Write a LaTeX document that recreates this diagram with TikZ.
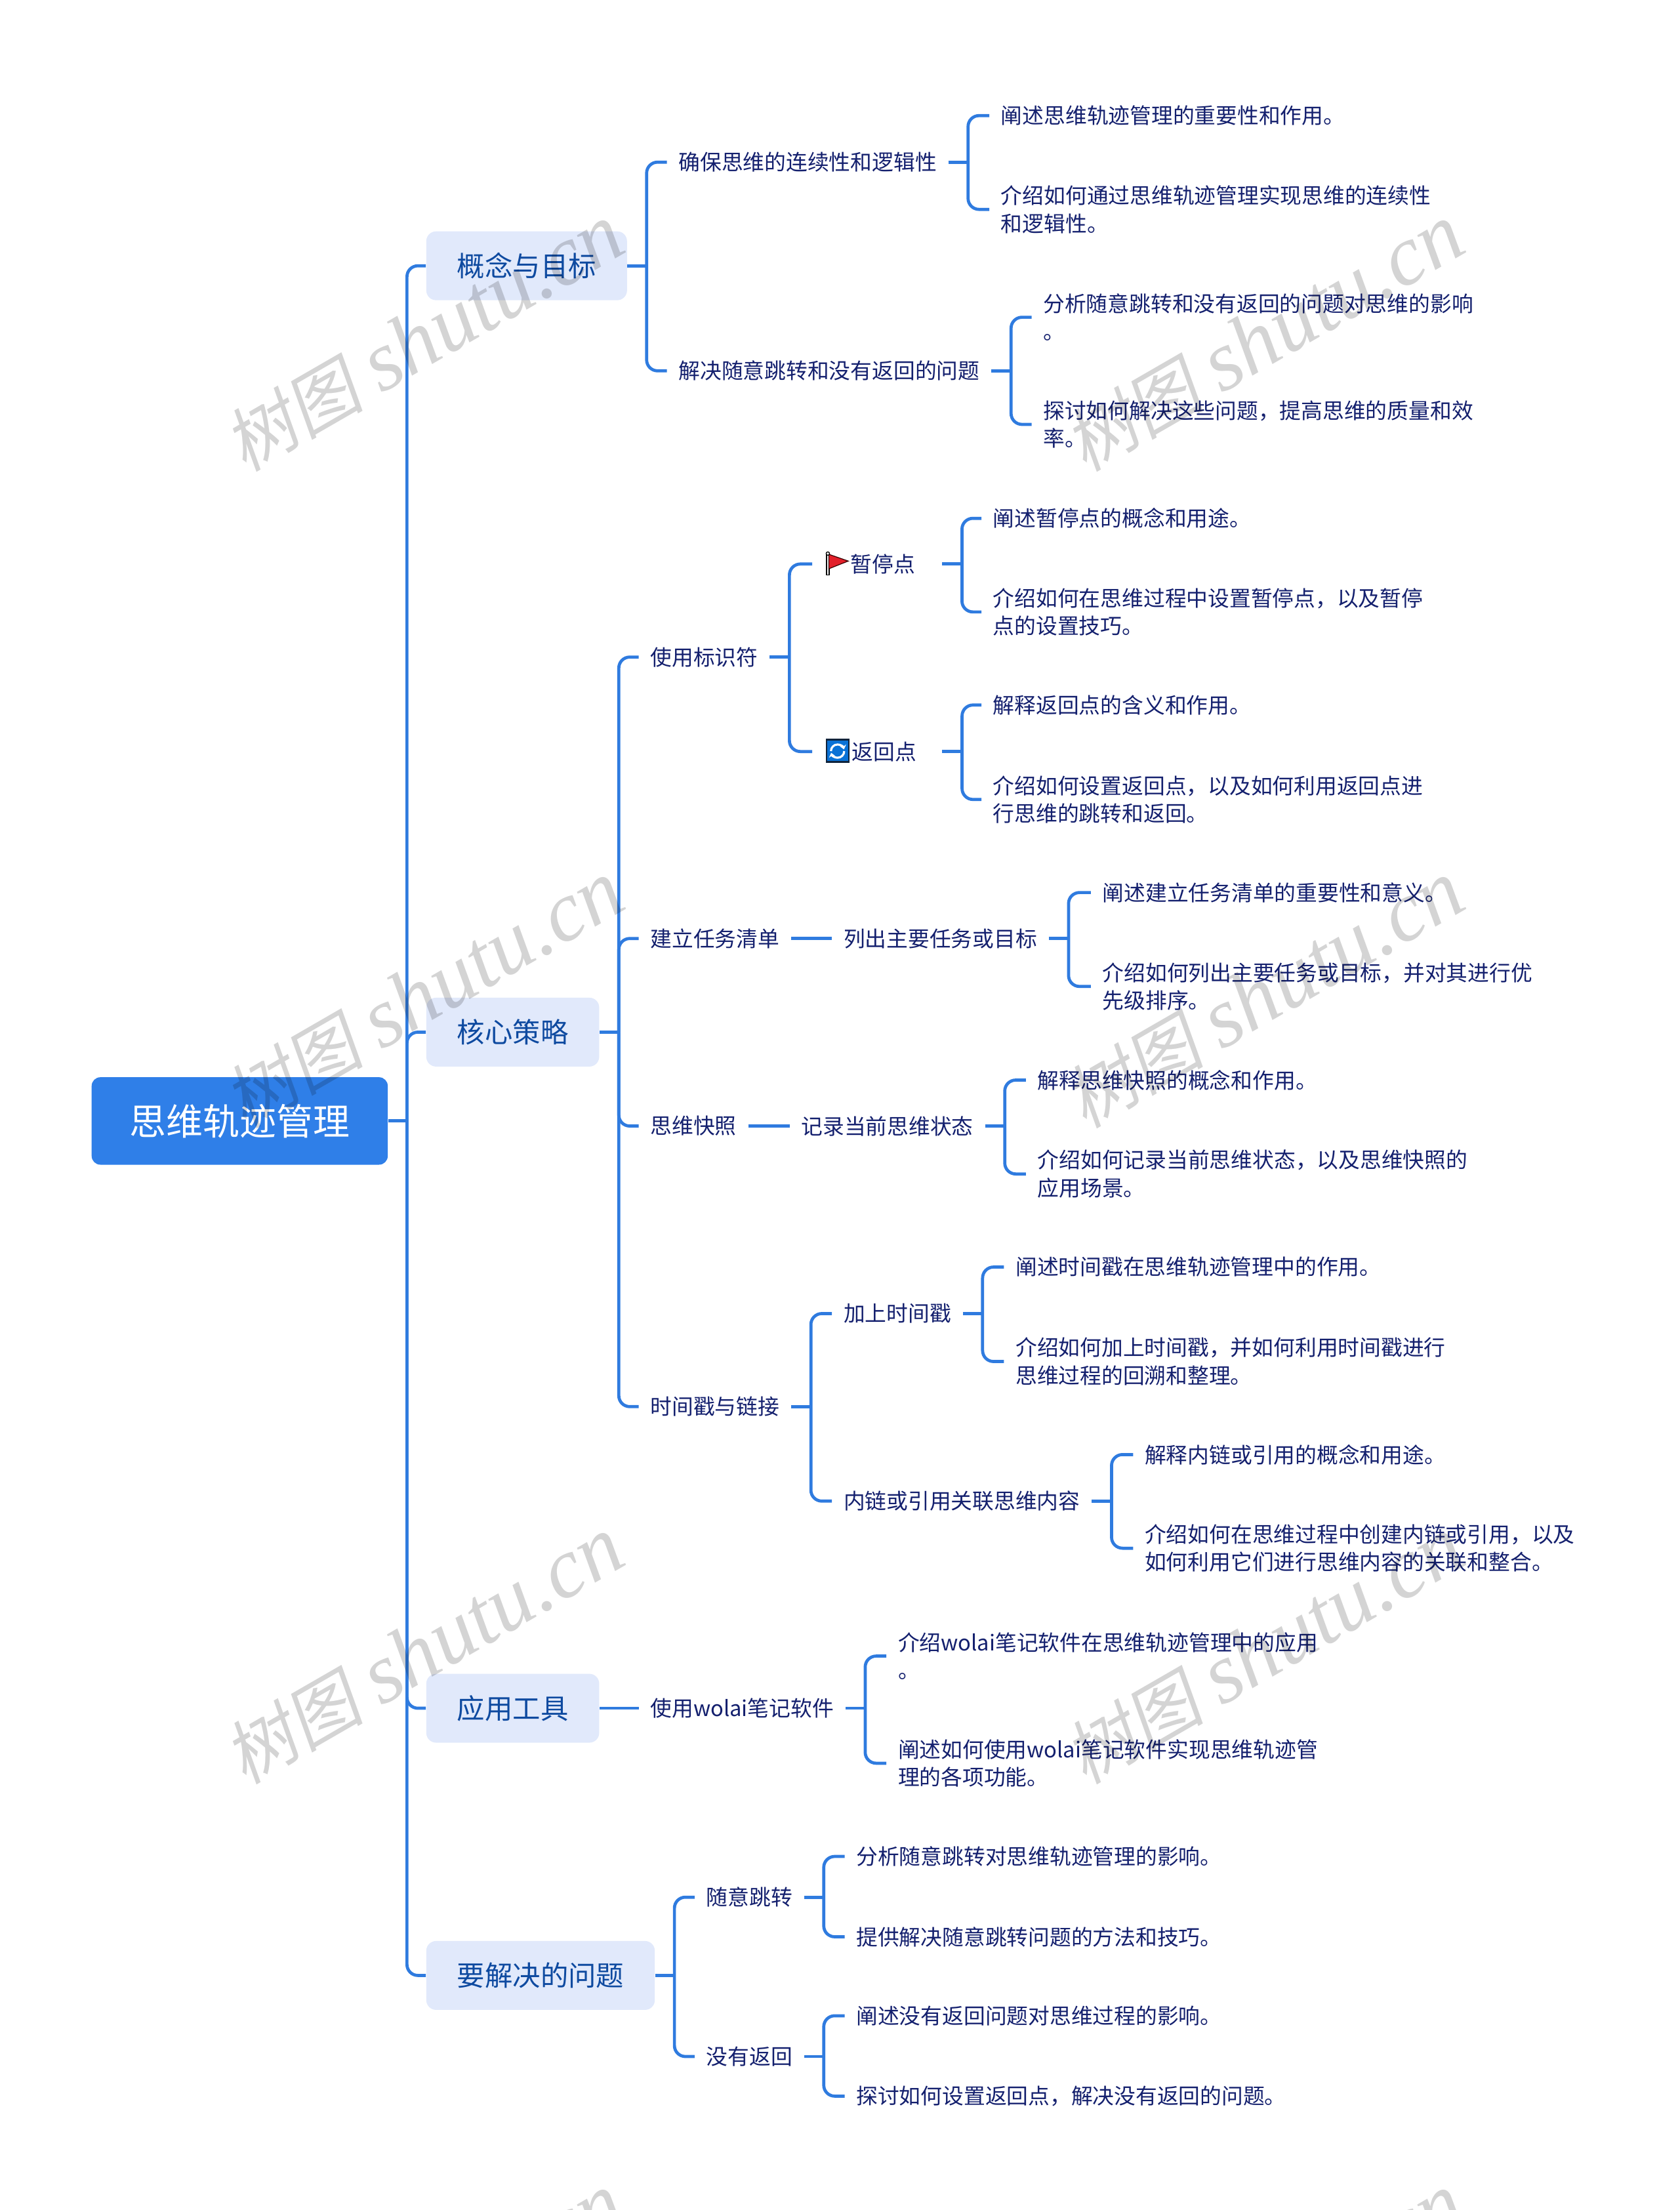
\documentclass[tikz,border=0pt]{standalone}
\usepackage{fontspec}
\usetikzlibrary{arrows.meta}
\setmainfont{Noto Sans CJK SC}
\newfontfamily\wmcjk[FakeSlant=0.18]{Noto Sans CJK SC}
\newfontfamily\wmlat{Liberation Serif}
\definecolor{connc}{HTML}{2F7BDF}
\definecolor{rootc}{HTML}{2F7FE8}
\definecolor{mainc}{HTML}{E1E9FB}
\definecolor{maint}{HTML}{0E4AA0}
\definecolor{subt}{HTML}{14206E}
\definecolor{iconb}{HTML}{0A72D6}
\definecolor{iconk}{HTML}{10243C}
\definecolor{flagr}{HTML}{E2202A}
\newcommand{\fork}[4][15]{%
  \coordinate (b#2) at ([xshift=#1*0.64484pt]#2.east);
  \draw[conn] (#2.east) -- (b#2);
  \draw[conn] (#3.west) -| (b#2) |- (#4.west);
}
\tikzset{
  x=0.64484pt,y=-0.64484pt,
  conn/.style={draw=connc,line width=1.42pt,rounded corners=5pt},
  sub/.style={anchor=west,align=left,text=subt,inner xsep=5.16pt,inner ysep=0pt,
    font=\fontsize{9.83pt}{12.75pt}\selectfont},
  topic/.style={anchor=west,fill=mainc,text=maint,rounded corners=4.5pt,inner xsep=14.1pt,inner ysep=0pt,
    minimum height=31.5pt,font=\fontsize{12.72pt}{15pt}\selectfont},
  rootn/.style={fill=rootc,text=white,rounded corners=4pt,inner xsep=17.4pt,inner ysep=0pt,
    minimum height=40pt,font=\fontsize{16.77pt}{20pt}\selectfont},
  wm/.style={rotate=30,text=black,text opacity=0.17,inner sep=0pt},
}
\newcommand{\wmtext}{{\wmcjk\fontsize{32pt}{36pt}\selectfont 树图}\hspace{8pt}{\wmlat\itshape\fontsize{39pt}{42pt}\selectfont shutu.cn}}
\begin{document}
\begin{tikzpicture}
\useasboundingbox (0,0) rectangle (1191,1567.37);
% root and topics
\node[rootn] (root) at (170,795) {思维轨迹管理};
\node[topic] (t1) at (302,188.5) {概念与目标};
\node[topic] (t2) at (302,732) {核心策略};
\node[topic] (t3) at (302,1211.5) {应用工具};
\node[topic] (t4) at (302,1401) {要解决的问题};
% topic 1
\node[sub] (a1) at (473,115) {确保思维的连续性和逻辑性};
\node[sub] (a11) at (701.6,82) {阐述思维轨迹管理的重要性和作用。};
\node[sub] (a12) at (701.6,148.5) {介绍如何通过思维轨迹管理实现思维的连续性\\和逻辑性。};
\node[sub] (a2) at (473,263) {解决随意跳转和没有返回的问题};
\node[sub] (a21) at (731.6,225) {分析随意跳转和没有返回的问题对思维的影响\\。};
\node[sub] (a22) at (731.6,301) {探讨如何解决这些问题，提高思维的质量和效\\率。};
% topic 2
\node[sub] (b1) at (453,466) {使用标识符};
\node[sub] (b11) at (576,400) {\hspace*{12.25pt}暂停点\hspace*{7pt}};
\node[sub] (b111) at (696,367.6) {阐述暂停点的概念和用途。};
\node[sub] (b112) at (696,434) {介绍如何在思维过程中设置暂停点，以及暂停\\点的设置技巧。};
\node[sub] (b12) at (576,533) {\hspace*{12.9pt}返回点\hspace*{6.4pt}};
\node[sub] (b121) at (696,500) {解释返回点的含义和作用。};
\node[sub] (b122) at (696,567) {介绍如何设置返回点，以及如何利用返回点进\\行思维的跳转和返回。};
\node[sub] (b2) at (453,665.6) {建立任务清单};
\node[sub] (b21) at (590,665.6) {列出主要任务或目标};
\node[sub] (b211) at (773.6,633) {阐述建立任务清单的重要性和意义。};
\node[sub] (b212) at (773.6,699.6) {介绍如何列出主要任务或目标，并对其进行优\\先级排序。};
\node[sub] (b3) at (453,798.6) {思维快照};
\node[sub] (b31) at (560,798.6) {记录当前思维状态};
\node[sub] (b311) at (727.6,766) {解释思维快照的概念和作用。};
\node[sub] (b312) at (727.6,832.6) {介绍如何记录当前思维状态，以及思维快照的\\应用场景。};
\node[sub] (b4) at (453,997.6) {时间戳与链接};
\node[sub] (b41) at (590,931.6) {加上时间戳};
\node[sub] (b411) at (712,898.6) {阐述时间戳在思维轨迹管理中的作用。};
\node[sub] (b412) at (712,965.6) {介绍如何加上时间戳，并如何利用时间戳进行\\思维过程的回溯和整理。};
\node[sub] (b42) at (590,1064.6) {内链或引用关联思维内容};
\node[sub] (b421) at (803.6,1031.6) {解释内链或引用的概念和用途。};
\node[sub] (b422) at (803.6,1098) {介绍如何在思维过程中创建内链或引用，以及\\如何利用它们进行思维内容的关联和整合。};
% topic 3
\node[sub] (c1) at (453,1211.5) {使用wolai笔记软件};
\node[sub] (c11) at (628.6,1174.5) {介绍wolai笔记软件在思维轨迹管理中的应用\\。};
\node[sub] (c12) at (628.6,1250.5) {阐述如何使用wolai笔记软件实现思维轨迹管\\理的各项功能。};
% topic 4
\node[sub] (d1) at (492.6,1345.5) {随意跳转};
\node[sub] (d11) at (599,1316.6) {分析随意跳转对思维轨迹管理的影响。};
\node[sub] (d12) at (599,1373.6) {提供解决随意跳转问题的方法和技巧。};
\node[sub] (d2) at (492.6,1458.5) {没有返回};
\node[sub] (d21) at (599,1429.6) {阐述没有返回问题对思维过程的影响。};
\node[sub] (d22) at (599,1486.6) {探讨如何设置返回点，解决没有返回的问题。};
% connectors
\fork[13.3]{root}{t1}{t4}
\draw[conn] (broot) |- (t2.west);
\draw[conn] (broot) |- (t3.west);
\fork[13.6]{t1}{a1}{a2}
\fork[14]{a1}{a11}{a12}
\fork[14]{a2}{a21}{a22}
\fork[13.6]{t2}{b1}{b4}
\draw[conn] (bt2) |- (b2.west);
\draw[conn] (bt2) |- (b3.west);
\fork[14]{b1}{b11}{b12}
\fork[14]{b11}{b111}{b112}
\fork[14]{b12}{b121}{b122}
\draw[conn] (b2.east) -- (b21.west);
\fork[14]{b21}{b211}{b212}
\draw[conn] (b3.east) -- (b31.west);
\fork[14]{b31}{b311}{b312}
\fork[14]{b4}{b41}{b42}
\fork[14]{b41}{b411}{b412}
\fork[14]{b42}{b421}{b422}
\draw[conn] (t3.east) -- (c1.west);
\fork[14]{c1}{c11}{c12}
\fork[13.6]{t4}{d1}{d2}
\fork[14]{d1}{d11}{d12}
\fork[14]{d2}{d21}{d22}
% flag icon
\draw[black,line width=1.7pt] (587.1,392.5) -- (587.1,408);
\draw[white,line width=0.5pt] (587.1,393) -- (587.1,407.4);
\fill[flagr,draw=black!80!red,line width=0.35pt] (587.8,393.1) -- (601.6,397.9) -- (587.8,403.4) -- cycle;
\draw[black,fill=white,line width=0.4pt] (587.1,392.6) circle[radius=1.2];
% refresh icon
\fill[iconk] (585.5,523.9) rectangle (602.7,541);
\fill[iconb] (586.8,525.2) rectangle (601.4,539.7);
\draw[white,line width=0.95pt,-{Stealth[length=1.9pt,width=3pt]}] (589.3,532.7) arc[start angle=180,end angle=345,radius=4.7];
\draw[white,line width=0.95pt,-{Stealth[length=1.9pt,width=3pt]}] (598.7,532.7) arc[start angle=0,end angle=165,radius=4.7];
% watermarks
\foreach \wx in {300.5,896.5}{
  \foreach \wy in {240,705.5,1171,1636.5}{
    \node[wm] at (\wx,\wy) {\wmtext};
  }
}
\end{tikzpicture}
\end{document}
